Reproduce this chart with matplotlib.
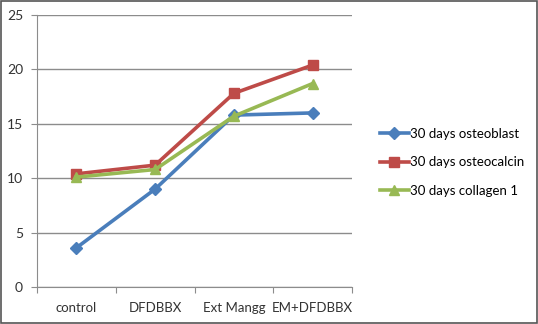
import matplotlib
matplotlib.use("Agg")
import matplotlib.pyplot as plt
import numpy as np

categories = ["control", "DFDBBX", "Ext Mangg", "EM+DFDBBX"]
osteoblast = [3.6, 9.0, 15.8, 16.0]
osteocalcin = [10.4, 11.2, 17.8, 20.4]
collagen = [10.1, 10.8, 15.7, 18.7]
labels = ["30 days osteoblast", "30 days osteocalcin", "30 days collagen 1"]
yticks = [0, 5, 10, 15, 20, 25]

plt.rcParams['font.family'] = ['Lato', 'DejaVu Sans']
fig = plt.figure(figsize=(5.38, 3.24), dpi=100)
ax = fig.add_axes([37/538, 1-287/324, (352-37)/538, (287-15)/324])

x = np.arange(len(categories))
ax.plot(x, osteoblast, color="#4a7ebb", lw=2.6, marker="D", ms=6, label=labels[0])
ax.plot(x, osteocalcin, color="#be4b48", lw=2.6, marker="s", ms=7, label=labels[1])
ax.plot(x, collagen, color="#98b954", lw=2.6, marker="^", ms=7, label=labels[2])

ax.set_xlim(-0.5, 3.5)
ax.set_ylim(0, 25)
ax.set_yticks(yticks)
ax.set_yticklabels([str(v) for v in yticks], fontsize=10, color="#333333")
ax.yaxis.grid(True, color="#8c8c8c", lw=1)
ax.set_axisbelow(True)
ax.set_xticks([-0.5, 0.5, 1.5, 2.5, 3.5])
ax.set_xticklabels([])
ax.set_xticks(x, minor=True)
ax.set_xticklabels(categories, minor=True, fontsize=9.5, color="#333333")
ax.tick_params(axis='x', which='minor', length=0, pad=11)
ax.tick_params(axis='x', which='major', length=4, color="#8c8c8c", direction='out')
ax.tick_params(axis='y', length=4, color="#8c8c8c", pad=6)
for s in ["top", "right"]:
    ax.spines[s].set_visible(False)
for s in ["left", "bottom"]:
    ax.spines[s].set_color("#8c8c8c")

leg = fig.legend(loc="upper left", bbox_to_anchor=(368/538, 1-116/324), frameon=False,
                 fontsize=9.5, handlelength=2.2, handletextpad=0.1, labelspacing=1.25)
fig.patches.append(plt.Rectangle((0.002, 0.003), 0.996, 0.994, transform=fig.transFigure,
                                 fill=False, edgecolor="#555555", lw=1.2))
fig.savefig("out.png", dpi=100)
